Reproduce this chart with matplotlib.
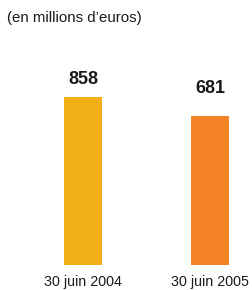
import matplotlib
matplotlib.use("Agg")
import matplotlib.pyplot as plt
import numpy as np

plt.rcParams['font.family'] = ['Liberation Sans', 'DejaVu Sans']

dates = ["30 juin 2004", "30 juin 2005"]
values = [858, 681]
colors = ["#F0AF14", "#F58426"]
base = -707  # the original bars don't start from zero

fig = plt.figure(figsize=(2.53, 2.9), dpi=100)
ax = fig.add_axes([0, 25 / 290, 1, 265 / 290])

x = np.arange(len(values))
heights = [v - base for v in values]
ax.bar(x, heights, bottom=base, width=0.3, color=colors)

# label gaps are not the same in the original
offsets = [6.3, 13.5]
for xi, v, off in zip(x, values, offsets):
    ax.annotate(str(v), (xi, v), xytext=(0, off), textcoords="offset points",
                ha="center", va="bottom", fontsize=13, fontweight="bold", color="#1a1a1a")

ax.set_xlim(-83 / 127, 170 / 127)
ax.set_ylim(base, base + 265 / 0.1073)
ax.set_xticks(x)
ax.set_xticklabels(dates, fontsize=10.3, color="#1a1a1a")
ax.tick_params(axis="x", length=0, pad=7)
ax.set_yticks([])
for s in ax.spines.values():
    s.set_visible(False)

fig.text(0.028, 1 - 11 / 290, "(en millions d\u2019euros)", ha="left", va="top",
         fontsize=10.8, color="#1a1a1a")

fig.savefig("out.png", dpi=100)
